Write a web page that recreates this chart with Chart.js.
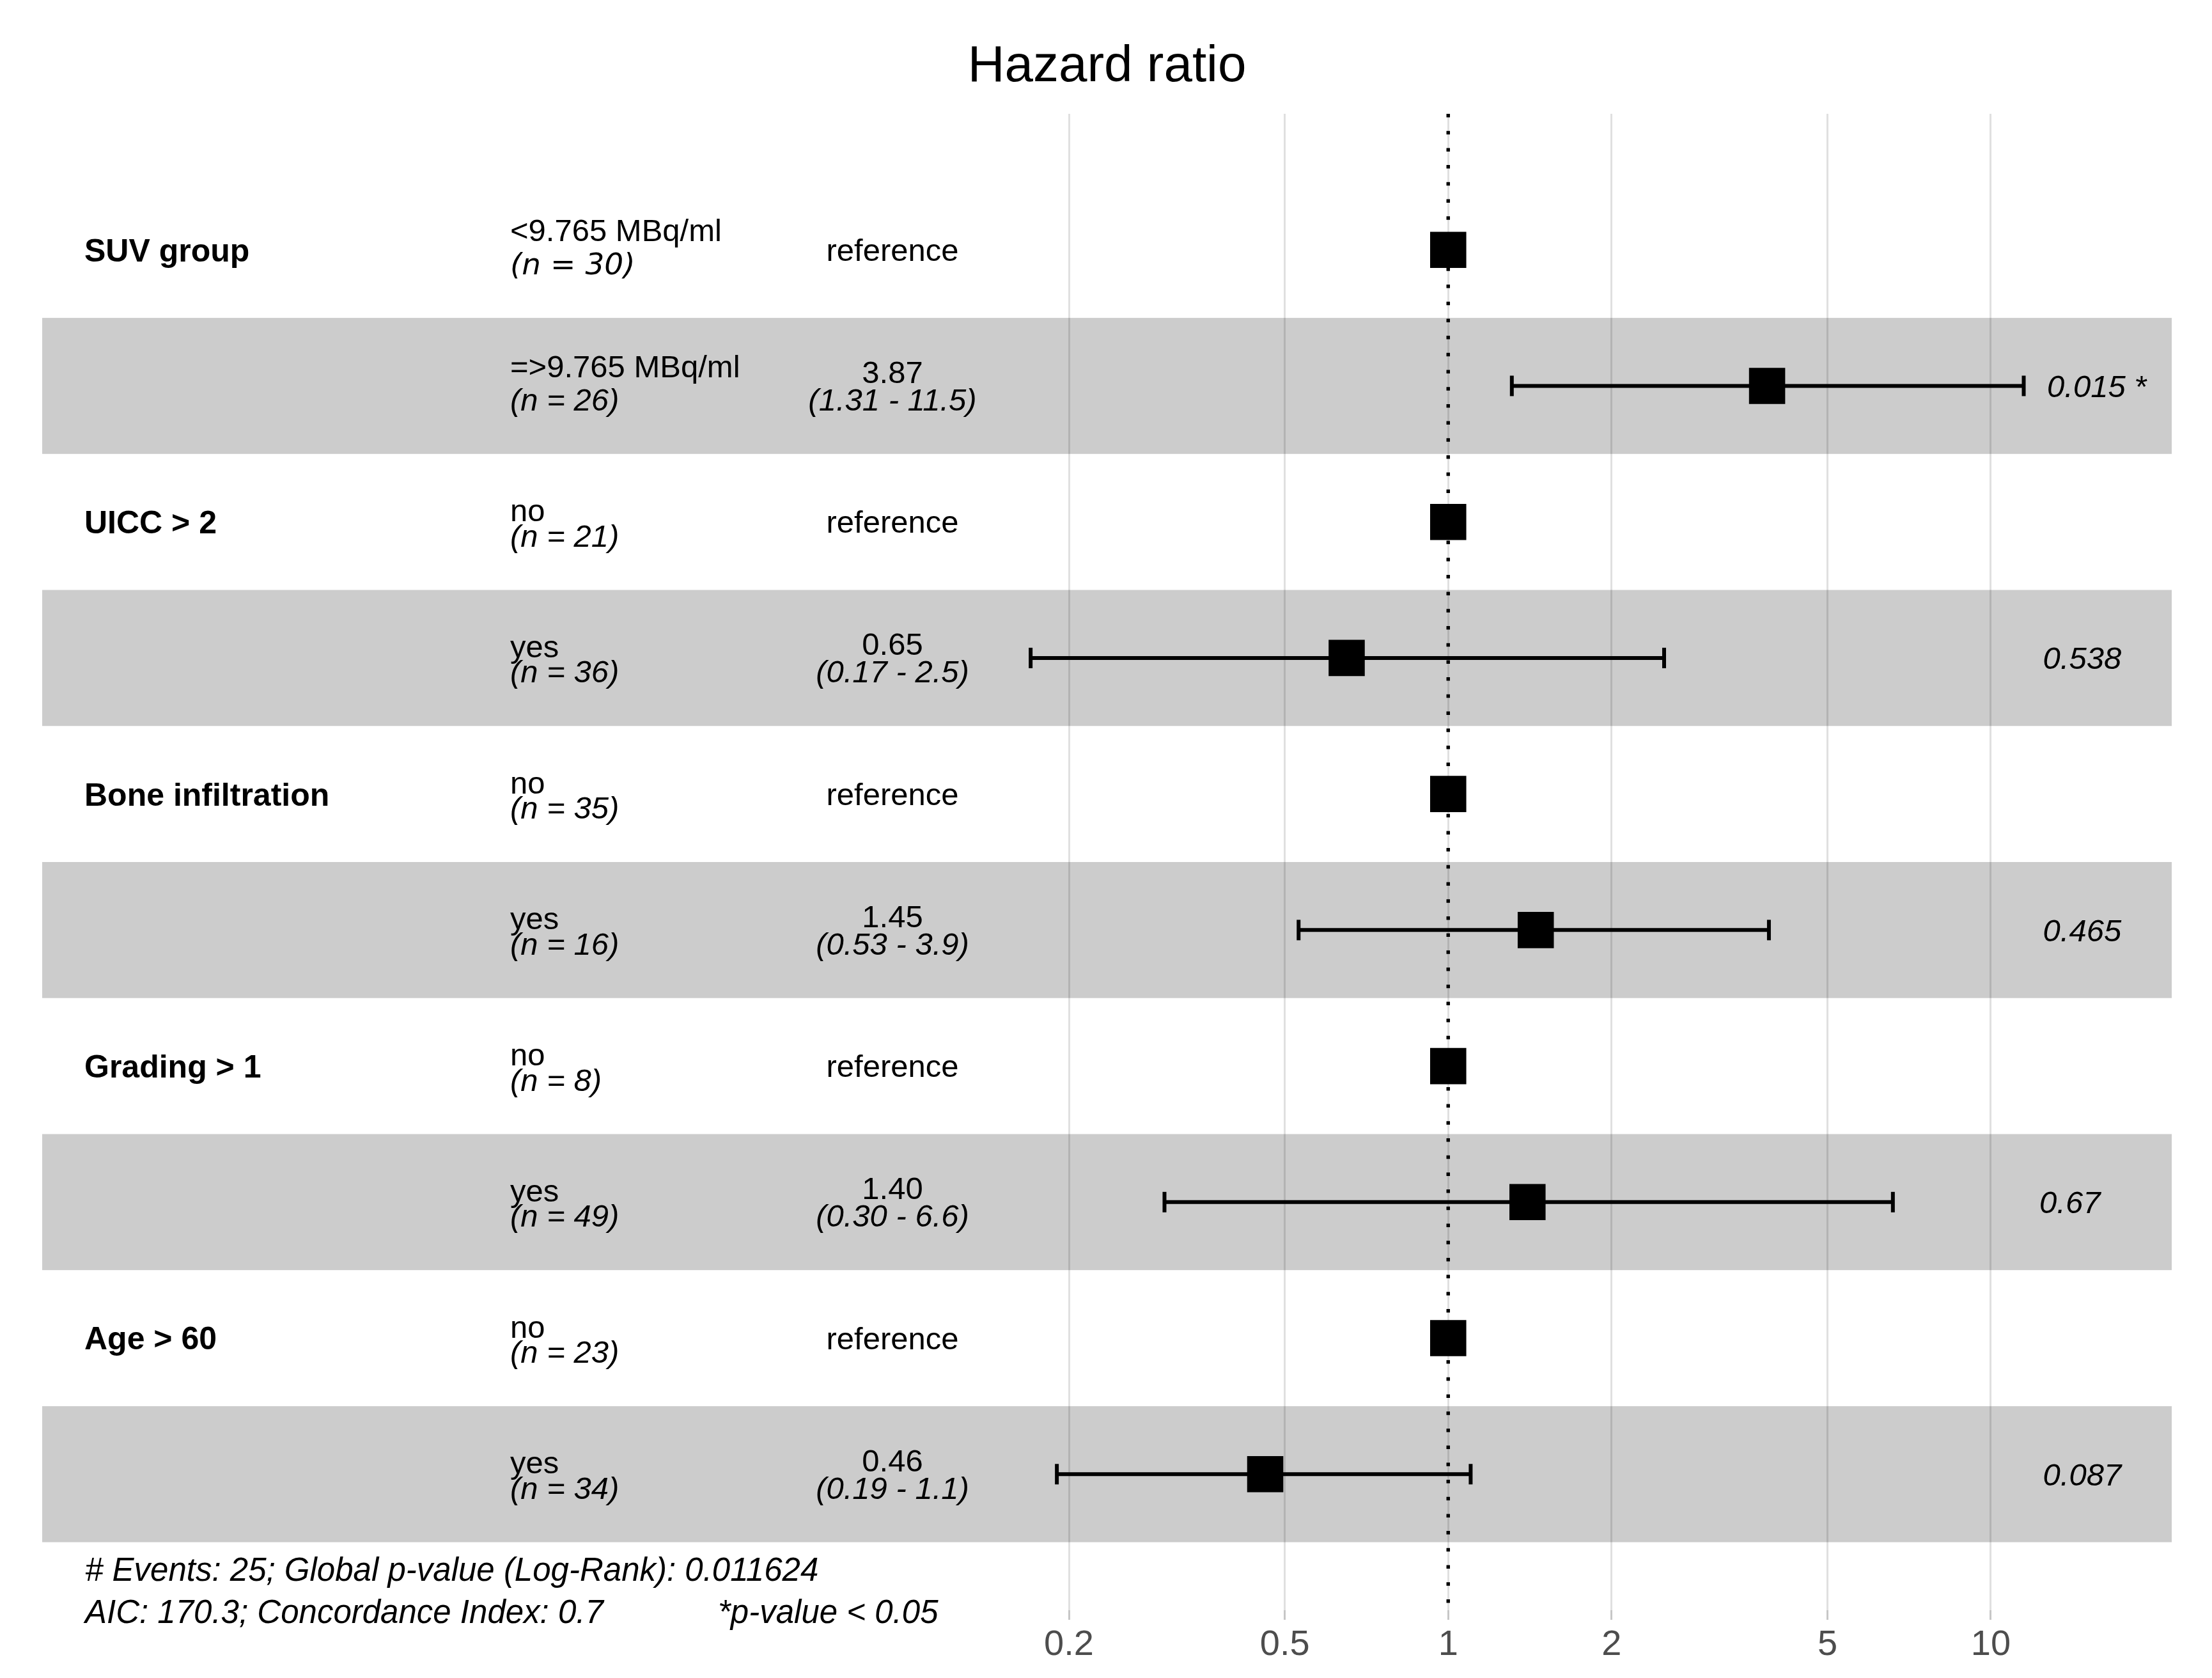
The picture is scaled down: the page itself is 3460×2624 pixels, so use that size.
<!DOCTYPE html>
<html>
<head>
<meta charset="utf-8">
<script src="https://cdn.jsdelivr.net/npm/chart.js@4.4.1/dist/chart.umd.min.js"></script>
<style>
  html, body { margin: 0; padding: 0; background: #fff; }
  canvas { display: block; }
</style>
</head>
<body>
<canvas id="forest" width="3460" height="2624"></canvas>
<script>
// Data (one entry per row, top to bottom)
const variables = ['SUV group', '', 'UICC > 2', '', 'Bone infiltration', '', 'Grading > 1', '', 'Age > 60', ''];
const levels = ['<9.765 MBq/ml', '=>9.765 MBq/ml', 'no', 'yes', 'no', 'yes', 'no', 'yes', 'no', 'yes'];
const counts = [30, 26, 21, 36, 35, 16, 8, 49, 23, 34];
const hazardRatios = [1, 3.87, 1, 0.65, 1, 1.45, 1, 1.40, 1, 0.46];
const ciLower = [null, 1.31, null, 0.17, null, 0.53, null, 0.30, null, 0.19];
const ciUpper = [null, 11.5, null, 2.5, null, 3.9, null, 6.6, null, 1.1];
const estimateLabels = ['reference', '3.87', 'reference', '0.65', 'reference', '1.45', 'reference', '1.40', 'reference', '0.46'];
const ciLabels = ['', '(1.31 - 11.5)', '', '(0.17 - 2.5)', '', '(0.53 - 3.9)', '', '(0.30 - 6.6)', '', '(0.19 - 1.1)'];
const pValues = ['', '0.015 *', '', '0.538', '', '0.465', '', '0.67', '', '0.087'];
const xTicks = [0.2, 0.5, 1, 2, 5, 10];
const footnotes = ['# Events: 25; Global p-value (Log-Rank): 0.011624', 'AIC: 170.3; Concordance Index: 0.7', '*p-value < 0.05'];

const FONT = '"Liberation Sans", Arial, Helvetica, sans-serif';
const rows = hazardRatios.map((v, i) => i + 1);

// gray band on every second row
const bandPlugin = {
    id: 'bands',
    beforeDraw(chart) {
        const { ctx, chartArea, scales } = chart;
        ctx.save();
        ctx.fillStyle = '#cccccc';
        rows.forEach(r => {
            if (r % 2 !== 0) return;
            const top = scales.y.getPixelForValue(r - 0.5);
            const bottom = scales.y.getPixelForValue(r + 0.5);
            ctx.fillRect(chartArea.left, top, chartArea.right - chartArea.left, bottom - top);
        });
        ctx.restore();
    }
};

// text is placed so that the middle of the capitals sits on yc
function capText(ctx, str, x, yc, size, opts) {
    opts = opts || {};
    ctx.font = (opts.style || 'normal') + ' ' + (opts.weight || 'normal') + ' ' + size + 'px ' + (opts.family || FONT);
    ctx.textAlign = opts.align || 'left';
    ctx.textBaseline = 'alphabetic';
    ctx.fillText(str, x, yc + 0.358 * size);
}

const tablePlugin = {
    id: 'table',
    afterDraw(chart) {
        const { ctx, scales } = chart;
        const y = scales.y;
        ctx.save();
        ctx.fillStyle = '#000';
        rows.forEach((r, i) => {
            const c = y.getPixelForValue(r);
            if (variables[i]) capText(ctx, variables[i], 132, c, 50, { weight: 'bold' });

            // level + count
            if (/[0-9A-Z]/.test(levels[i])) {
                capText(ctx, levels[i], 798, c - 31, 49);
            } else {
                ctx.font = '49px ' + FONT;
                ctx.textAlign = 'left';
                ctx.textBaseline = 'alphabetic';
                ctx.fillText(levels[i], 798, c - 1);
            }
            const nText = '(n = ' + counts[i] + ')';
            if (i === 0) capText(ctx, nText, 798, c + 21, 47, { style: 'italic', family: '"DejaVu Sans", sans-serif' });
            else capText(ctx, nText, 798, c + 21, 49, { style: 'italic' });

            // estimate column
            if (ciLabels[i]) {
                capText(ctx, estimateLabels[i], 1396, c - 22, 49, { align: 'center' });
                capText(ctx, ciLabels[i], 1396, c + 21, 49, { align: 'center', style: 'italic' });
            } else {
                ctx.font = '49px ' + FONT;
                ctx.textAlign = 'center';
                ctx.textBaseline = 'alphabetic';
                ctx.fillText(estimateLabels[i], 1396, c + 17);
            }

            // p-values, hjust = -0.2 like ggforest
            if (pValues[i]) {
                ctx.font = 'italic 49px ' + FONT;
                const w = ctx.measureText(pValues[i]).width;
                capText(ctx, pValues[i], 3171 + 0.2 * w, c, 49, { style: 'italic' });
            }
        });

        capText(ctx, footnotes[0], 133, y.getPixelForValue(10.7), 51, { style: 'italic' });
        capText(ctx, footnotes[1], 133, y.getPixelForValue(11.01), 51, { style: 'italic' });
        capText(ctx, footnotes[2], 1123, y.getPixelForValue(11.01), 51, { style: 'italic' });
        ctx.restore();
    }
};

const datasets = [];
datasets.push({
    label: 'HR',
    data: hazardRatios.map((v, i) => ({ x: v, y: rows[i] })),
    showLine: false,
    pointStyle: 'rect',
    pointRadius: 40,
    pointBorderWidth: 0,
    pointBackgroundColor: '#000',
    pointBorderColor: '#000'
});
hazardRatios.forEach((v, i) => {
    if (ciLower[i] === null) return;
    datasets.push({
        label: 'CI ' + i,
        data: [{ x: ciLower[i], y: rows[i] }, { x: ciUpper[i], y: rows[i] }],
        showLine: true,
        borderColor: '#000',
        borderWidth: 6,
        pointStyle: 'line',
        pointRotation: 90,
        pointRadius: 16,
        pointBorderWidth: 6,
        pointBorderColor: '#000'
    });
});
datasets.push({
    label: 'no effect',
    data: [{ x: 1, y: 0 }, { x: 1, y: 11 }],
    showLine: true,
    borderColor: '#000',
    borderWidth: 5.5,
    borderDash: [5.5, 21.2],
    pointRadius: 0
});

new Chart(document.getElementById('forest').getContext('2d'), {
    type: 'scatter',
    data: { datasets: datasets },
    plugins: [bandPlugin, tablePlugin],
    options: {
        responsive: false,
        devicePixelRatio: 1,
        animation: false,
        events: [],
        layout: { padding: { left: 66, right: 63, top: 0, bottom: 0 } },
        plugins: {
            legend: { display: false },
            tooltip: { enabled: false },
            title: {
                display: true,
                text: 'Hazard ratio',
                color: '#000',
                font: { family: FONT, size: 80, weight: 'normal', lineHeight: 1.2 },
                padding: { top: 57, bottom: 25 }
            }
        },
        scales: {
            x: {
                type: 'logarithmic',
                min: 0.002563,
                max: 21.55,
                afterBuildTicks: s => { s.ticks = xTicks.map(v => ({ value: v })); },
                afterFit: s => { s.height = 106; },
                border: { display: false },
                grid: {
                    color: 'rgba(0,0,0,0.12)',
                    lineWidth: 3,
                    drawTicks: true,
                    tickLength: 15,
                    tickColor: 'rgba(0,0,0,0.22)',
                    tickWidth: 3
                },
                ticks: {
                    autoSkip: false,
                    maxRotation: 0,
                    padding: 6,
                    color: '#4d4d4d',
                    font: { family: FONT, size: 56 },
                    callback: v => String(v)
                }
            },
            y: {
                type: 'linear',
                min: 0,
                max: 11,
                reverse: true,
                display: false
            }
        }
    }
});
</script>
</body>
</html>
